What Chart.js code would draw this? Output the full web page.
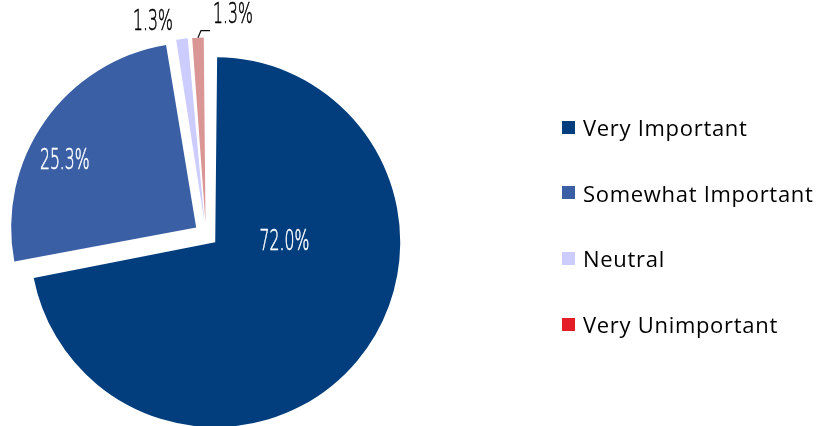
<!DOCTYPE html>
<html>
<head>
<meta charset="utf-8">
<script src="https://cdn.jsdelivr.net/npm/chart.js@4/dist/chart.umd.min.js"></script>
<style>
  html, body { margin: 0; padding: 0; background: #ffffff; }
  #wrap { position: relative; width: 817px; height: 426px; overflow: hidden; }
  #c { position: absolute; left: 0; top: 0; }
  .lg { position: absolute; display: flex; align-items: center; white-space: nowrap;
        font-family: "Open Sans", "Noto Sans", sans-serif; font-size: 22px; letter-spacing: 0.7px; color: #000; }
  .lg .sw { width: 13px; height: 13px; margin-right: 8px; flex: none; }
</style>
</head>
<body>
<div id="wrap">
  <canvas id="c" width="817" height="426"></canvas>
</div>
<script>
// ---- data ----
const categories = ["Very Important", "Somewhat Important", "Neutral", "Very Unimportant"];
const shares = [72.0, 25.3, 1.3, 1.3];
const valueLabels = ["72.0%", "25.3%", "1.3%", "1.3%"];
const sliceColors = ["#023E7D", "#3A5FA5", "#CCCCFF", "#D99694"];
const legendColors = ["#023E7D", "#3A5FA5", "#CCCCFF", "#E31E26"];

// ---- styling / layout ----
const PIE_RADIUS = 185;
const SLICE_OFFSET = 48;            // Chart.js translates by offset/4
// label placement relative to pie centre: [angle (deg, clockwise from top), radius factor]
const labelPlace = [[95.1, 0.426], [297.7, 0.862], [346, 1.187], [7, 1.198]];
const labelColor = ["#ffffff", "#ffffff", "#000000", "#000000"];

// Keep every slice at the same outer radius (Chart.js enlarges offset slices)
const radiusFix = {
  id: 'radiusFix',
  beforeDatasetsDraw(chart) {
    const meta = chart.getDatasetMeta(0);
    const base = meta.controller.outerRadius;
    meta.data.forEach(el => {
      const circ = el.endAngle - el.startAngle;
      const fix = 1 - Math.sin(Math.min(Math.PI, circ));
      el.outerRadius = base - (SLICE_OFFSET / 4) * fix;
    });
  }
};

const sliceLabels = {
  id: 'sliceLabels',
  afterDatasetsDraw(chart) {
    const ctx = chart.ctx;
    const meta = chart.getDatasetMeta(0);
    const el0 = meta.data[0];
    const cx = el0.x, cy = el0.y;
    const R = meta.controller.outerRadius;
    ctx.save();
    ctx.font = '200 28px "DejaVu Sans"';
    ctx.textAlign = 'center';
    ctx.textBaseline = 'middle';
    const sx = 0.56;
    const pos = [];
    valueLabels.forEach((t, i) => {
      const a = labelPlace[i][0] * Math.PI / 180;
      const r = labelPlace[i][1] * R;
      const x = cx + r * Math.sin(a);
      const y = cy - r * Math.cos(a);
      pos.push([x, y, ctx.measureText(t).width * sx]);
      ctx.save();
      ctx.translate(x, y);
      ctx.scale(sx, 1);
      ctx.fillStyle = labelColor[i];
      ctx.strokeStyle = labelColor[i];
      ctx.lineWidth = 0.6;
      ctx.fillText(t, 0, 1);
      ctx.strokeText(t, 0, 1);
      ctx.restore();
    });
    // leader line for the last slice
    const el = meta.data[3];
    const mid = (el.startAngle + el.endAngle) / 2;
    const rr = R + SLICE_OFFSET / 4;
    const x1 = cx + rr * Math.cos(mid), y1 = cy + rr * Math.sin(mid);
    const x2 = x1 + 3, y2 = y1 - 7;
    const x3 = pos[3][0] - pos[3][2] / 2 - 3;
    ctx.beginPath();
    ctx.moveTo(x1, y1); ctx.lineTo(x2, y2); ctx.lineTo(x3, y2);
    ctx.strokeStyle = '#111';
    ctx.lineWidth = 1.2;
    ctx.stroke();
    ctx.restore();
  }
};

new Chart(document.getElementById('c'), {
  type: 'pie',
  data: {
    labels: categories,
    datasets: [{
      data: shares,
      backgroundColor: sliceColors,
      borderWidth: 0,
      offset: SLICE_OFFSET
    }]
  },
  options: {
    responsive: false,
    animation: false,
    radius: PIE_RADIUS,
    layout: { padding: { left: 0, right: 405, top: 43, bottom: 0 } },
    plugins: { legend: { display: false }, tooltip: { enabled: false } }
  },
  plugins: [radiusFix, sliceLabels]
});

// ---- legend (HTML) ----
const wrap = document.getElementById('wrap');
categories.forEach((name, i) => {
  const d = document.createElement('div');
  d.className = 'lg';
  const sw = document.createElement('span');
  sw.className = 'sw';
  sw.style.background = legendColors[i];
  const tx = document.createElement('span');
  tx.textContent = name;
  d.appendChild(sw); d.appendChild(tx);
  wrap.appendChild(d);
  const h = d.offsetHeight;
  d.style.left = '562px';
  d.style.top = (128 + i * 65.7 - h / 2 - 1) + 'px';
});
</script>
</body>
</html>
